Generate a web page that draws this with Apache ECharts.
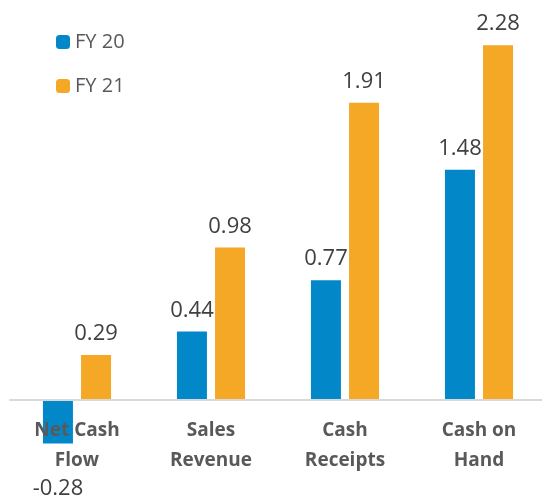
<!DOCTYPE html>
<html>
<head>
<meta charset="utf-8">
<script src="https://cdn.jsdelivr.net/npm/echarts@6/dist/echarts.min.js"></script>
<style>
    html, body { margin: 0; padding: 0; background: #fff; }
    #chart { width: 542px; height: 495px; }
</style>
</head>
<body>
<div id="chart"></div>
<script>
;(function () {
    "use strict";

    const categories = ["Net Cash\nFlow", "Sales\nRevenue", "Cash\nReceipts", "Cash on\nHand"];
    const fy20 = [-0.28, 0.44, 0.77, 1.48];
    const fy21 = [0.29, 0.98, 1.91, 2.28];
    const seriesNames = ["FY 20", "FY 21"];

    const font = "'Open Sans', 'Liberation Sans', sans-serif";

    // negative values get their label under the bar
    function withLabels(values) {
        return values.map(v => v < 0
            ? { value: v, label: { position: "bottom", distance: 34 } }
            : v);
    }

    const myChart = echarts.init(document.getElementById("chart"));
    const options = {
        animation: false,
        legend: {
            orient: "vertical",
            left: 51,
            top: 27,
            itemWidth: 14,
            itemHeight: 14,
            itemGap: 24,
            textStyle: { fontFamily: font, fontSize: 20, color: "#595959" },
            data: seriesNames
        },
        // grid bottom sits on the zero line; the negative bar is drawn unclipped below it
        grid: {
            left: 10,
            top: 11,
            width: 536,
            height: 389,
            outerBoundsMode: "none",
            containLabel: false
        },
        xAxis: {
            type: "category",
            data: categories,
            z: 10,
            axisLine: { lineStyle: { color: "#d9d9d9", width: 2 } },
            axisTick: { show: false },
            axisLabel: {
                margin: 16,
                fontFamily: font,
                fontSize: 19,
                fontWeight: "bold",
                color: "#595959",
                lineHeight: 30
            }
        },
        yAxis: {
            type: "value",
            min: 0,
            max: 2.5,
            show: false,
            splitLine: { show: false }
        },
        series: [
            {
                name: seriesNames[0],
                type: "bar",
                z: 1,
                clip: false,
                barWidth: 30,
                barGap: "27%",
                itemStyle: { color: "#0288c9" },
                label: {
                    show: true,
                    position: "top",
                    distance: 10,
                    fontFamily: font,
                    fontSize: 22,
                    color: "#404040"
                },
                data: withLabels(fy20)
            },
            {
                name: seriesNames[1],
                type: "bar",
                z: 1,
                clip: false,
                barWidth: 30,
                barGap: "27%",
                itemStyle: { color: "#f5a726" },
                label: {
                    show: true,
                    position: "top",
                    distance: 10,
                    fontFamily: font,
                    fontSize: 22,
                    color: "#404040"
                },
                data: withLabels(fy21)
            }
        ]
    };
    myChart.setOption(options);
})();
</script>
</body>
</html>
